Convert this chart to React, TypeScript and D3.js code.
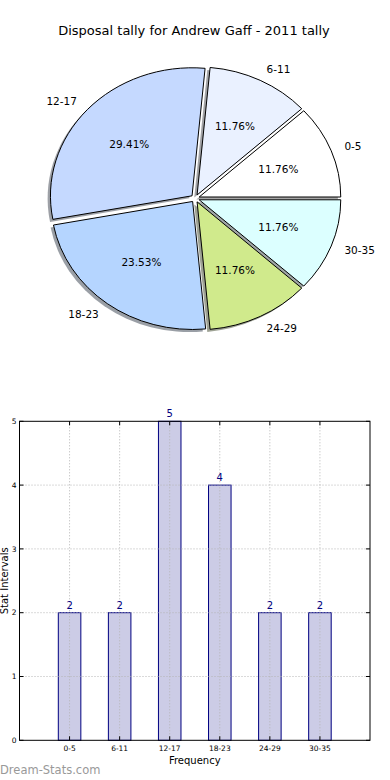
import React from "react";
import * as d3 from "d3";

const categories = ["0-5", "6-11", "12-17", "18-23", "24-29", "30-35"];
const counts = [2, 2, 5, 4, 2, 2];
const sliceColors = ["#ffffff", "#eaf1ff", "#c5d9ff", "#b5d5ff", "#d0ea8c", "#dcffff"];
const yTicks = [0, 1, 2, 3, 4, 5];
const title = "Disposal tally for Andrew Gaff - 2011 tally";

const W = 390;
const H = 780;
const FONT = "DejaVu Sans, sans-serif";

// pie geometry (elliptical, like matplotlib with a non-square axes)
const cx = 195.2, cy = 198.4, rx = 141.6, ry = 128;
const explode = 0.03;

// bar geometry
const plot = { left: 19.5, right: 370, top: 421.3, bottom: 740.3 };
const NAVY = "#000080";

const App = () => {
	const total = d3.sum(counts);
	// start at 3 o'clock, go counter-clockwise (matplotlib style)
	const pie = d3.pie<number>().sort(null).startAngle(Math.PI / 2).endAngle(Math.PI / 2 - 2 * Math.PI);
	const arcs = pie(counts);
	const arc = d3.arc<d3.PieArcDatum<number>>().innerRadius(0).outerRadius(1);

	const mid = (a: d3.PieArcDatum<number>) => (a.startAngle + a.endAngle) / 2;
	const unit = (m: number): [number, number] => [Math.sin(m), -Math.cos(m)];

	const x = d3.scaleLinear().domain([-1, 6]).range([plot.left, plot.right]);
	const y = d3.scaleLinear().domain([0, 5]).range([plot.bottom, plot.top]);
	const barW = x(0.45) - x(0);

	return (
		<svg width={W} height={H} style={{ position: "absolute", left: 0, top: 0, background: "#fff" }} fontFamily={FONT}>
			<text x={194} y={30} dy="0.35em" textAnchor="middle" fontSize={13}>{title}</text>

			{/* shadows */}
			{arcs.map((a, i) => {
				const [ux, uy] = unit(mid(a));
				const c = d3.rgb(sliceColors[i]);
				const sc = d3.rgb(c.r * 0.3, c.g * 0.3, c.b * 0.3).toString();
				return (
					<g key={"s" + i} transform={`translate(${cx},${cy}) scale(${rx},${ry}) translate(${ux * explode - 0.02},${uy * explode + 0.02})`}>
						<path d={arc(a) || ""} fill={sc} fillOpacity={0.5} stroke="none" />
					</g>
				);
			})}
			{arcs.map((a, i) => {
				const [ux, uy] = unit(mid(a));
				return (
					<g key={"w" + i} transform={`translate(${cx},${cy}) scale(${rx},${ry}) translate(${ux * explode},${uy * explode})`}>
						<path d={arc(a) || ""} fill={sliceColors[i]} stroke="#000" strokeWidth={1} vectorEffect="non-scaling-stroke" />
					</g>
				);
			})}
			{arcs.map((a, i) => {
				const [ux, uy] = unit(mid(a));
				const lx = cx + (1.1 + explode) * rx * ux;
				const ly = cy + (1.1 + explode) * ry * uy;
				const px = cx + (0.6 + explode) * rx * ux;
				const py = cy + (0.6 + explode) * ry * uy;
				return (
					<g key={"t" + i} fontSize={10.5}>
						<text x={lx} y={ly} dy="0.35em" textAnchor={ux > 0 ? "start" : "end"}>{categories[i]}</text>
						<text x={px} y={py} dy="0.35em" textAnchor="middle">{((counts[i] / total) * 100).toFixed(2)}%</text>
					</g>
				);
			})}

			{/* bar chart */}
			{counts.map((v, i) => (
				<rect key={"b" + i} x={x(i) - barW / 2} y={y(v)} width={barW} height={y(0) - y(v)}
					fill={NAVY} fillOpacity={0.2} stroke={NAVY} strokeWidth={1} />
			))}
			{yTicks.slice(1, -1).map((t) => (
				<line key={"gy" + t} x1={plot.left} x2={plot.right} y1={y(t)} y2={y(t)} stroke="#b4b4b4" strokeWidth={1} strokeDasharray="1,2" />
			))}
			{categories.map((c, i) => (
				<line key={"gx" + i} x1={x(i)} x2={x(i)} y1={plot.top} y2={plot.bottom} stroke="#b4b4b4" strokeWidth={1} strokeDasharray="1,2" />
			))}
			<rect x={plot.left} y={plot.top} width={plot.right - plot.left} height={plot.bottom - plot.top} fill="none" stroke="#000" strokeWidth={1} />
			{yTicks.map((t) => (
				<g key={"ty" + t}>
					<line x1={plot.left} x2={plot.left + 4} y1={y(t)} y2={y(t)} stroke="#000" />
					<line x1={plot.right - 4} x2={plot.right} y1={y(t)} y2={y(t)} stroke="#000" />
					<text x={plot.left - 3} y={y(t)} dy="0.35em" textAnchor="end" fontSize={7.5}>{t}</text>
				</g>
			))}
			{categories.map((c, i) => (
				<g key={"tx" + i}>
					<line x1={x(i)} x2={x(i)} y1={plot.bottom - 4} y2={plot.bottom} stroke="#000" />
					<line x1={x(i)} x2={x(i)} y1={plot.top} y2={plot.top + 4} stroke="#000" />
					<text x={x(i)} y={plot.bottom + 8} dy="0.35em" textAnchor="middle" fontSize={7.5}>{c}</text>
				</g>
			))}
			{counts.map((v, i) => (
				<text key={"v" + i} x={x(i)} y={y(v) - 4} textAnchor="middle" fontSize={10} fill={NAVY}>{v}</text>
			))}
			<text x={(plot.left + plot.right) / 2} y={760} dy="0.35em" textAnchor="middle" fontSize={10}>Frequency</text>
			<text transform={`translate(4,${(plot.top + plot.bottom) / 2}) rotate(-90)`} dy="0.35em" textAnchor="middle" fontSize={10}>Stat Intervals</text>
			<text x={0} y={774} fontSize={11.5} fill="#999">Dream-Stats.com</text>
		</svg>
	);
};

export default App;
